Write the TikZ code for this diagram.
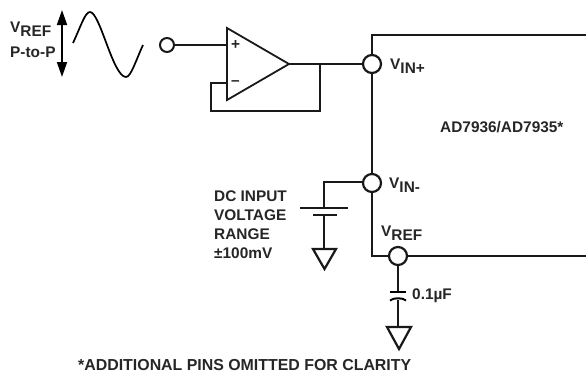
\documentclass[tikz,border=0pt]{standalone}
\usepackage{fontspec}
\setmainfont{Liberation Sans}
\usetikzlibrary{arrows.meta}
\tikzset{
  wire/.style={line width=2.2pt,draw=black!90,line join=miter},
  thinwire/.style={line width=1.6pt,draw=black!90},
  term/.style={circle,draw=black!90,line width=2.2pt,minimum size=18pt,inner sep=0pt,fill=white},
  lbl/.style={font=\bfseries\fontsize{15.4}{19}\selectfont,text=black!85,inner sep=0pt},
}
\newcommand{\sub}[1]{\raisebox{-0.28em}{#1}}
\begin{document}
\begin{tikzpicture}[x=1pt,y=-1pt]
\useasboundingbox (0,0) rectangle (586,373);
% signal
\node[lbl,anchor=west] (vrefl) at (10,29) {V\sub{REF}};
\node[lbl,anchor=west] (ptop) at (10,52) {P-to-P};
\coordinate (au) at (62,10);
\coordinate (ad) at (62,77);
\draw[line width=1.8pt,{Triangle[width=10pt,length=15pt]}-{Triangle[width=10pt,length=15pt]}] (au) -- (ad);
\draw[line width=1.7pt] (73,43) .. controls (81,26) and (85,12) .. (90,12) .. controls (100,12) and (113,77) .. (126,77) .. controls (131,77) and (136,60) .. (143,45);
% op amp
\coordinate (oa1) at (227,28);
\coordinate (oa2) at (227,100);
\coordinate (oa3) at (289,64);
\draw[wire,line width=1.8pt,fill=white] (oa1) -- (oa2) -- (oa3) -- cycle;
\node[lbl] (plus) at (235.5,45) {+};
\node[lbl] (minus) at (235.5,83) {–};
\node[circle,draw=black!90,line width=2pt,minimum size=14pt,inner sep=0pt] (in) at (167,45) {};
\coordinate (ip) at (227,45);
\coordinate (im) at (227,83);
\draw[thinwire] (in) -- (ip);
\coordinate (fb1) at (211,83);
\coordinate (fb2) at (211,111);
\coordinate (fb3) at (320,111);
\coordinate (fb4) at (320,64);
\draw[thinwire] (im) -- (fb1) -- (fb2) -- (fb3) -- (fb4);
% chip outline
\coordinate (c0) at (372,35);
\coordinate (c1) at (586,35);
\coordinate (c2) at (372,256);
\coordinate (c3) at (586,256);
\draw[wire] (c1) -- (c0) -- (c2) -- (c3);
\node[term] (vinp) at (372,64) {};
\node[term] (vinm) at (372,183) {};
\node[term] (vref) at (398,256) {};
\draw[wire] (oa3) -- (vinp);
\node[lbl,anchor=west] (lvinp) at (390,66) {V\sub{IN+}};
\node[lbl,anchor=west] (lvinm) at (389,185) {V\sub{IN-}};
\node[lbl,anchor=west] (lvref) at (381,233) {V\sub{REF}};
\node[lbl,anchor=west] (chip) at (440,127) {AD7936/AD7935*};
% DC source
\node[lbl,anchor=north west,align=left] (dc) at (214,190.5) {DC INPUT\\VOLTAGE\\RANGE\\±100mV};
\coordinate (b1) at (324,182);
\coordinate (b2) at (324,208);
\coordinate (b3) at (324,215);
\coordinate (b4) at (324,249);
\draw[wire] (vinm.west |- b1) -- (b1) -- (b2);
\draw[wire] (b3) -- (b4);
\coordinate (bl1) at (300,208); \coordinate (br1) at (348,208);
\coordinate (bl2) at (313,215); \coordinate (br2) at (337,215);
\draw[wire] (bl1) -- (br1);
\draw[wire] (bl2) -- (br2);
\coordinate (g1a) at (313,249); \coordinate (g1b) at (336,249); \coordinate (g1c) at (324.5,269);
\draw[wire] (g1a) -- (g1b) -- (g1c) -- cycle;
% cap
\coordinate (cu) at (398,292);
\coordinate (cd) at (398,300);
\coordinate (gt) at (398,327);
\draw[wire] (vref) -- (cu);
\draw[wire] (cd) -- (gt);
\draw[line width=2pt] (390,292) -- (406,292);
\draw[line width=2pt] (390,300.5) .. controls (393,297.5) and (403,297.5) .. (406,300.5);
\node[lbl,anchor=west] (cap) at (412,296) {0.1µF};
\coordinate (g2a) at (387,327); \coordinate (g2b) at (411,327); \coordinate (g2c) at (399,349);
\draw[wire] (g2a) -- (g2b) -- (g2c) -- cycle;
\node[lbl,anchor=west,font=\bfseries\fontsize{15.9}{19}\selectfont] (foot) at (78,365) {*ADDITIONAL PINS OMITTED FOR CLARITY};
\end{tikzpicture}
\end{document}
